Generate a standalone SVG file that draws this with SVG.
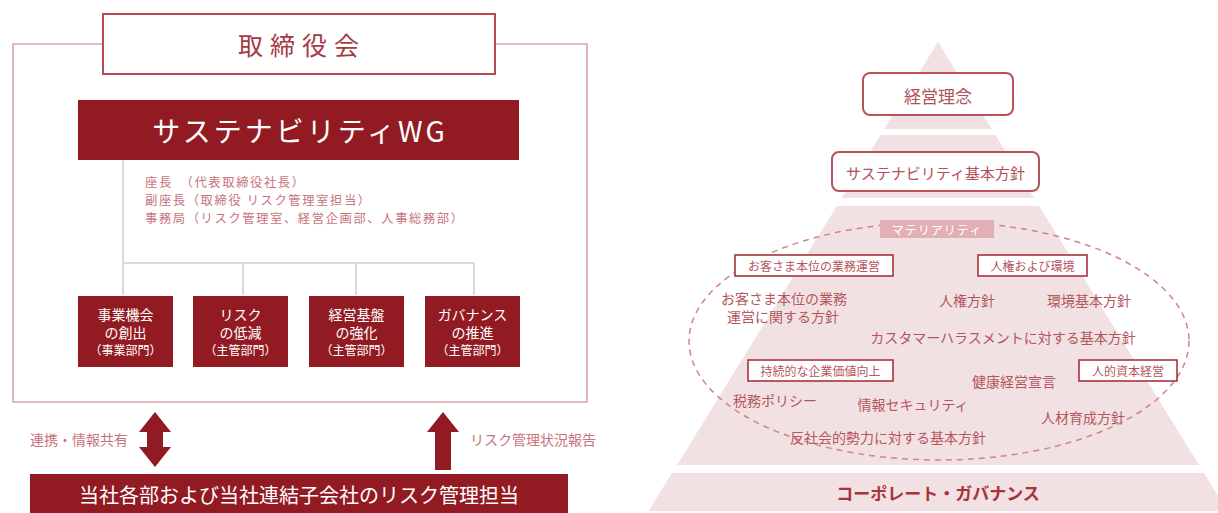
<svg xmlns="http://www.w3.org/2000/svg" width="1218" height="513" viewBox="0 0 1218 513">
<defs>
<style>
text{font-family:"Noto Sans CJK JP","Noto Sans",sans-serif;text-anchor:middle;dominant-baseline:central}
.dark{fill:#921b23}
.wt{fill:#ffffff}
.lt{fill:#c8737b;font-size:12.3px;letter-spacing:1.6px;text-anchor:start}
.bx{font-size:14px;fill:#ffffff}
.bxs{font-size:12px;fill:#ffffff}
.gl{stroke:#d9d9d9;stroke-width:2;fill:none}
.band{fill:#f2e1e2}
.rb{fill:#ffffff;stroke:#b9505a;stroke-width:2}
.pt{fill:#b4565e;font-size:14px}
.lb{fill:#ffffff;stroke:#a8323c;stroke-width:1.6}
.lbt{fill:#b4565e;font-size:12px}
.al{font-size:14px;fill:#c8737b}
</style>
</defs>
<rect width="1218" height="513" fill="#ffffff"/>

<g id="connectors">
<polyline points="103,44 13,44 13,402 587,402 587,44 495,44" fill="none" stroke="#dba5aa" stroke-width="1.6"/>
<line class="gl" x1="123" y1="160" x2="123" y2="295"/>
<line class="gl" x1="123" y1="263" x2="474" y2="263"/>
<line class="gl" x1="243" y1="263" x2="243" y2="295"/>
<line class="gl" x1="356" y1="263" x2="356" y2="295"/>
<line class="gl" x1="474" y1="263" x2="474" y2="295"/>
<polygon class="dark" points="155,412 171,432 163,432 163,447 171,447 155,467 139,447 147,447 147,432 139,432"/>
<polygon class="dark" points="443,412 459,432 451,432 451,470 435,470 435,432 427,432"/>
<text class="al" x="79" y="439">連携・情報共有</text>
<text class="al" x="533" y="439">リスク管理状況報告</text>
</g>

<g id="board">
<rect x="103" y="14" width="392" height="60" fill="#ffffff" stroke="#b84a54" stroke-width="2"/>
<text x="302" y="44" style="font-size:25px;fill:#a43a44;letter-spacing:7px">取締役会</text>
</g>

<g id="wg">
<rect class="dark" x="78" y="100" width="441" height="60"/>
<text x="300" y="130" class="wt" style="font-size:28px;letter-spacing:3px">サステナビリティWG</text>
</g>

<g id="wg-members">
<text class="lt" x="145" y="182">座長　（代表取締役社長）</text>
<text class="lt" x="145" y="200">副座長（取締役 リスク管理室担当）</text>
<text class="lt" x="145" y="218">事務局（リスク管理室、経営企画部、人事総務部）</text>
</g>

<g id="box1">
<rect class="dark" x="78" y="296" width="95" height="71"/>
<text class="bx" x="125.5" y="314">事業機会</text>
<text class="bx" x="125.5" y="332">の創出</text>
<text class="bxs" x="125.5" y="349">（事業部門）</text>
</g>
<g id="box2">
<rect class="dark" x="193" y="296" width="95" height="71"/>
<text class="bx" x="240.5" y="314">リスク</text>
<text class="bx" x="240.5" y="332">の低減</text>
<text class="bxs" x="240.5" y="349">（主管部門）</text>
</g>
<g id="box3">
<rect class="dark" x="309" y="296" width="95" height="71"/>
<text class="bx" x="356.5" y="314">経営基盤</text>
<text class="bx" x="356.5" y="332">の強化</text>
<text class="bxs" x="356.5" y="349">（主管部門）</text>
</g>
<g id="box4">
<rect class="dark" x="425" y="296" width="95" height="71"/>
<text class="bx" x="472.5" y="314">ガバナンス</text>
<text class="bx" x="472.5" y="332">の推進</text>
<text class="bxs" x="472.5" y="349">（主管部門）</text>
</g>

<g id="risk-managers">
<rect class="dark" x="30" y="474" width="538" height="39"/>
<text x="299" y="494" class="wt" style="font-size:20px">当社各部および当社連結子会社のリスク管理担当</text>
</g>

<g id="pyramid">
<polygon class="band" points="938,42 991.7,129 884.3,129"/>
<polygon class="band" points="880.6,135 995.4,135 1034.3,198 841.7,198"/>
<polygon class="band" points="836.8,206 1039.2,206 1199,465 677,465"/>
</g>

<g id="philosophy">
<rect class="rb" x="863" y="73" width="150" height="42" rx="7"/>
<text x="938" y="95" style="font-size:17px;fill:#b0505a">経営理念</text>
</g>

<g id="sustainability-policy">
<rect class="rb" x="832" y="152" width="207" height="39" rx="7"/>
<text x="935.5" y="172" style="font-size:15px;fill:#b0505a">サステナビリティ基本方針</text>
</g>

<g id="materiality">
<ellipse cx="939" cy="341" rx="250" ry="119" fill="none" stroke="#d0848b" stroke-width="1.5" stroke-dasharray="6 5"/>
<rect x="880" y="220" width="114" height="18" fill="#e2b0b4"/>
<text x="937" y="229" class="wt" style="font-size:12px;letter-spacing:1px">マテリアリティ</text>
</g>

<g id="label-customer">
<rect class="lb" x="735" y="255" width="158" height="21"/>
<text class="lbt" x="814" y="265.5">お客さま本位の業務運営</text>
</g>
<g id="label-human-rights">
<rect class="lb" x="978" y="255" width="109" height="21"/>
<text class="lbt" x="1032.5" y="265.5">人権および環境</text>
</g>
<g id="label-value">
<rect class="lb" x="748" y="360" width="145" height="21"/>
<text class="lbt" x="820.5" y="370.5">持続的な企業価値向上</text>
</g>
<g id="label-human-capital">
<rect class="lb" x="1079" y="360" width="98" height="21"/>
<text class="lbt" x="1128" y="370.5">人的資本経営</text>
</g>

<g id="policies">
<text class="pt" x="784" y="298">お客さま本位の業務</text>
<text class="pt" x="783" y="316">運営に関する方針</text>
<text class="pt" x="967" y="300">人権方針</text>
<text class="pt" x="1089" y="300">環境基本方針</text>
<text class="pt" x="1003" y="337">カスタマーハラスメントに対する基本方針</text>
<text class="pt" x="1014" y="381">健康経営宣言</text>
<text class="pt" x="775" y="400">税務ポリシー</text>
<text class="pt" x="913" y="404">情報セキュリティ</text>
<text class="pt" x="1083" y="417">人材育成方針</text>
<text class="pt" x="888" y="437">反社会的勢力に対する基本方針</text>
</g>

<g id="governance">
<polygon class="band" points="672,473 1204,473 1227.4,511 648.6,511"/>
<text x="938" y="492" style="font-size:17px;font-weight:bold;fill:#a5323c">コーポレート・ガバナンス</text>
</g>
</svg>
